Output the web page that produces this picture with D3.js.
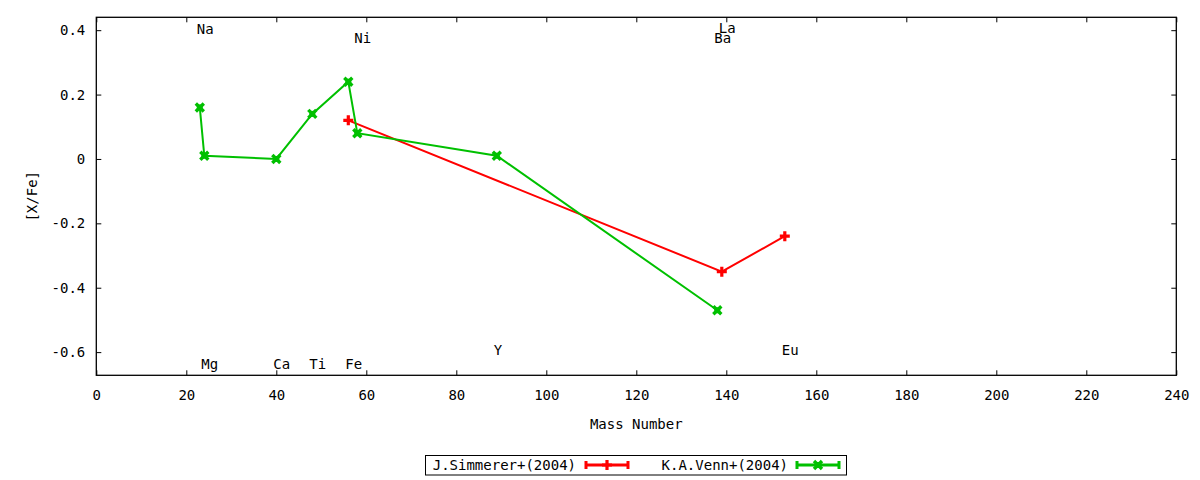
<!DOCTYPE html>
<html>
<head>
<meta charset="utf-8">
<script src="https://cdn.jsdelivr.net/npm/d3@7"></script>
<style>
  body { margin: 0; background: #fff; }
  text { font-family: "DejaVu Sans Mono", monospace; font-size: 14px; fill: #000; }
</style>
</head>
<body>
<div id="chart"></div>
<script>
// data
var simmererMass = [56, 139, 153];
var simmererVal  = [0.12, -0.35, -0.24];

var vennMass = [23, 24, 40, 48, 56, 58, 89, 138];
var vennVal  = [0.16, 0.01, 0.00, 0.14, 0.24, 0.08, 0.01, -0.47];

// element labels (text, mass, [X/Fe] position)
var labelText = ["Na", "Mg", "Ca", "Ti", "Fe", "Ni", "Y", "Ba", "La", "Eu"];
var labelMass = [23, 24, 40, 48, 56, 58, 89, 138, 139, 153];
var labelY    = [0.405, -0.637, -0.637, -0.637, -0.637, 0.375, -0.593, 0.375, 0.408, -0.593];

var xTicks = d3.range(0, 241, 20);
var yTicks = [-0.6, -0.4, -0.2, 0, 0.2, 0.4];

var width = 1200, height = 480;
var plotLeft = 96.3, plotRight = 1176.3, plotTop = 17.3, plotBottom = 375.3;

var svg = d3.select("#chart").append("svg")
  .attr("width", width)
  .attr("height", height);

var x = d3.scaleLinear().domain([0, 240]).range([plotLeft, plotRight]);
var y = d3.scaleLinear().domain([-0.672, 0.44]).range([plotBottom, plotTop]);

function fmtY(d) { return d === 0 ? "0" : d.toFixed(1); }

// bottom axis with labels, ticks point inward
var gx = svg.append("g")
  .attr("transform", "translate(0," + plotBottom + ")")
  .call(d3.axisBottom(x).tickValues(xTicks).tickSize(-5).tickPadding(15));
// top mirror ticks
var gxt = svg.append("g")
  .attr("transform", "translate(0," + plotTop + ")")
  .call(d3.axisTop(x).tickValues(xTicks).tickSize(-5).tickFormat(""));
// left axis
var gy = svg.append("g")
  .attr("transform", "translate(" + plotLeft + ",0)")
  .call(d3.axisLeft(y).tickValues(yTicks).tickSize(-5).tickPadding(11).tickFormat(fmtY));
// right mirror ticks
var gyr = svg.append("g")
  .attr("transform", "translate(" + plotRight + ",0)")
  .call(d3.axisRight(y).tickValues(yTicks).tickSize(-5).tickFormat(""));

[gx, gxt, gy, gyr].forEach(function(g) {
  g.attr("font-family", null).attr("font-size", null);
  g.select(".domain").remove();
  g.selectAll("line").attr("stroke", "#000");
});

svg.append("rect")
  .attr("x", plotLeft).attr("y", plotTop)
  .attr("width", plotRight - plotLeft).attr("height", plotBottom - plotTop)
  .attr("fill", "none").attr("stroke", "#000").attr("stroke-width", 1.3);

// axis titles
svg.append("text")
  .attr("x", x(120)).attr("y", 429)
  .attr("text-anchor", "middle")
  .text("Mass Number");
svg.append("text")
  .attr("transform", "translate(37," + ((plotTop + plotBottom) / 2) + ") rotate(-90)")
  .attr("text-anchor", "middle")
  .text("[X/Fe]");

// element labels
svg.selectAll(".elem").data(labelText).enter()
  .append("text").attr("class", "elem")
  .attr("x", function(d, i) { return x(labelMass[i]) - 3; })
  .attr("y", function(d, i) { return y(labelY[i]); })
  .attr("dy", "0.36em")
  .text(function(d) { return d; });

var line = d3.line()
  .x(function(d) { return x(d[0]); })
  .y(function(d) { return y(d[1]); });

var simData = d3.zip(simmererMass, simmererVal);
var vennData = d3.zip(vennMass, vennVal);

function plusMarker(g, cx, cy, color) {
  g.append("path")
    .attr("d", "M" + (cx - 5) + "," + cy + "H" + (cx + 5) + "M" + cx + "," + (cy - 5) + "V" + (cy + 5))
    .attr("stroke", color).attr("stroke-width", 3.2).attr("fill", "none");
}
function crossMarker(g, cx, cy, color) {
  g.append("path")
    .attr("d", "M" + (cx - 4) + "," + (cy - 4) + "L" + (cx + 4) + "," + (cy + 4) +
               "M" + (cx - 4) + "," + (cy + 4) + "L" + (cx + 4) + "," + (cy - 4))
    .attr("stroke", color).attr("stroke-width", 3.4).attr("fill", "none");
  g.append("rect")
    .attr("x", cx - 3).attr("y", cy - 3).attr("width", 6).attr("height", 6)
    .attr("fill", color);
}

var red = "#ff0000", green = "#00c000";

svg.append("path").datum(simData)
  .attr("d", line).attr("fill", "none").attr("stroke", red).attr("stroke-width", 2);
svg.append("path").datum(vennData)
  .attr("d", line).attr("fill", "none").attr("stroke", green).attr("stroke-width", 2);

var marks = svg.append("g");
simData.forEach(function(d) { plusMarker(marks, x(d[0]), y(d[1]), red); });
vennData.forEach(function(d) { crossMarker(marks, x(d[0]), y(d[1]), green); });

// legend
var leg = svg.append("g");
leg.append("rect")
  .attr("x", 425.5).attr("y", 455.5).attr("width", 421).attr("height", 19.5)
  .attr("fill", "none").attr("stroke", "#000").attr("stroke-width", 1);

var legItems = [
  { name: "J.Simmerer+(2004)", color: red, textEnd: 576, x0: 586, x1: 628, marker: plusMarker },
  { name: "K.A.Venn+(2004)", color: green, textEnd: 788, x0: 797, x1: 839, marker: crossMarker }
];
var ly = 465;
legItems.forEach(function(it) {
  leg.append("text")
    .attr("x", it.textEnd).attr("y", ly).attr("dy", "0.36em")
    .attr("text-anchor", "end")
    .text(it.name);
  leg.append("path")
    .attr("d", "M" + it.x0 + "," + ly + "H" + it.x1 +
               "M" + it.x0 + "," + (ly - 4) + "V" + (ly + 4) +
               "M" + it.x1 + "," + (ly - 4) + "V" + (ly + 4))
    .attr("stroke", it.color).attr("stroke-width", 3).attr("fill", "none");
  it.marker(leg, (it.x0 + it.x1) / 2, ly, it.color);
});
</script>
</body>
</html>
